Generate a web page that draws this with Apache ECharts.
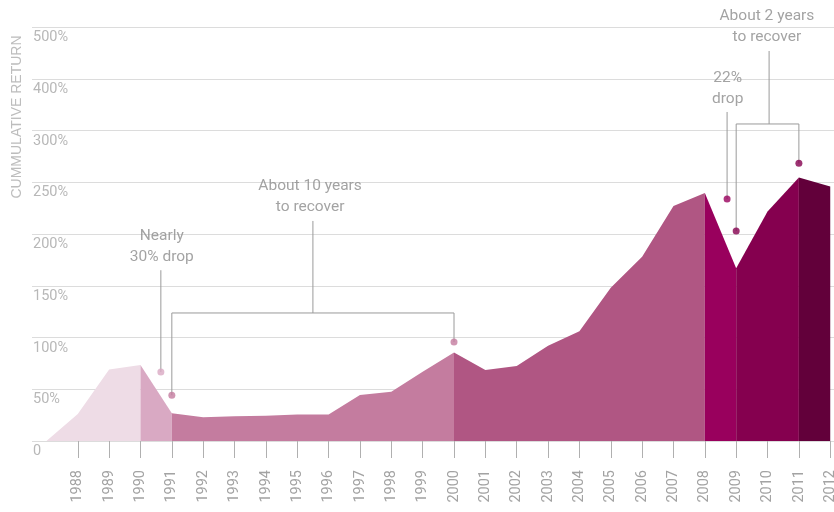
<!DOCTYPE html>
<html>
<head>
<meta charset="utf-8">
<script src="https://cdn.jsdelivr.net/npm/echarts@6/dist/echarts.min.js"></script>
<style>html,body{margin:0;padding:0;background:#fff}#c{width:834px;height:512px}</style>
</head>
<body>
<div id="c"></div>
<script>
// Data
const years = [1987,1988,1989,1990,1991,1992,1993,1994,1995,1996,1997,1998,1999,2000,2001,2002,2003,2004,2005,2006,2007,2008,2009,2010,2011,2012];
const returns = [0,26,69,73.5,26.7,23,24,24.5,25.5,25.5,44.5,47.6,67,85.4,68.7,72.5,92,106,148,178,227,239.5,167,221.7,254.6,246];
const segmentBreaks = [1987,1990,1991,2000,2008,2009,2011,2012];
const segmentColors = ['#eedce6','#d9a9c3','#c47c9f','#b05683','#99005d','#85004f','#62003a'];
const yTickLabels = ['0','50%','100%','150%','200%','250%','300%','400%','500%'];
const xTickYears = years.slice(1);

const annotationTexts = [
  {text:'Nearly\n30% drop', x:1990.68, y:188},
  {text:'About 10 years\nto recover', x:1995.41, y:236},
  {text:'22%\ndrop', x:2008.73, y:340},
  {text:'About 2 years\nto recover', x:2009.98, y:400.5}
];
const annotationDots = [
  {x:1990.65, y:66.7, color:'#d9a9c3'},
  {x:1991, y:44.2, color:'#c47c9f'},
  {x:2000, y:95.7, color:'#c47c9f'},
  {x:2008.71, y:233.8, color:'#99005d'},
  {x:2009, y:202.9, color:'#85004f'},
  {x:2011, y:268.3, color:'#85004f'}
];
const connectorPaths = [
  [[1990.65,165],[1990.65,66.7]],
  [[1991,44.2],[1991,123.7],[2000,123.7],[2000,95.7]],
  [[1995.5,123.7],[1995.5,212.6]],
  [[2008.71,317.9],[2008.71,233.8]],
  [[2009,202.9],[2009,306.3],[2011,306.3],[2011,268.3]],
  [[2010.05,306.3],[2010.05,376.8]]
];

const FONT = 'Roboto, "Liberation Sans", sans-serif';
const series = [];
for (let s = 0; s < segmentColors.length; s++) {
  const a = segmentBreaks[s], b = segmentBreaks[s+1];
  const data = [];
  years.forEach((y, i) => { if (y >= a && y <= b) data.push([y, returns[i]]); });
  series.push({
    type:'line', data, showSymbol:false, symbol:'none', silent:true,
    lineStyle:{width:0}, areaStyle:{color:segmentColors[s], opacity:1}, z:2
  });
}
const connData = [];
connectorPaths.forEach((p, i) => { if (i > 0) connData.push(['-','-']); p.forEach(pt => connData.push(pt)); });
series.push({
  type:'line', data:connData, showSymbol:false, symbol:'none', connectNulls:false, silent:true,
  lineStyle:{width:1, color:'#9a9a9a'}, z:3, clip:false
});
series.push({
  type:'scatter', symbolSize:7, z:4, silent:true, clip:false,
  data: annotationDots.map(d => ({value:[d.x,d.y], itemStyle:{color:d.color}}))
});
series.push({
  type:'scatter', symbolSize:0, z:5, silent:true, clip:false,
  data: annotationTexts.map(d => ({value:[d.x,d.y], name:d.text})),
  label:{show:true, position:'inside', formatter: p => p.name, color:'#8c8c8c', fontSize:15.5, lineHeight:21, fontFamily:FONT, align:'center', verticalAlign:'middle'}
});

const chart = echarts.init(document.getElementById('c'));
chart.setOption({
  animation:false,
  grid:{left:32, right:0, top:27, bottom:71, outerBoundsMode:'none', containLabel:false},
  xAxis:{
    type:'value', min:1986.54, max:2012.12, offset:7,
    axisLine:{show:false},
    splitLine:{show:false},
    axisTick:{show:true, length:17, customValues:xTickYears, lineStyle:{color:'#b0b0b0', width:1}},
    axisLabel:{show:true, customValues:xTickYears, rotate:90, margin:22, color:'#a3a3a3', fontSize:14.5, fontFamily:FONT, hideOverlap:false, formatter: v => String(v)}
  },
  yAxis:{
    type:'value', min:0, max:400, interval:50,
    axisLine:{show:false}, axisTick:{show:false},
    splitLine:{show:true, lineStyle:{color:'#dcdcdc', width:1}},
    axisLabel:{inside:true, margin:1, verticalAlign:'top', padding:[3,0,0,0], color:'#b8b8b8', fontSize:14.5, fontFamily:FONT,
      formatter: v => yTickLabels[Math.round(v/50)]}
  },
  graphic:[{
    type:'text', x:17, y:117, rotation:Math.PI/2, originX:0, originY:0,
    style:{text:'CUMMULATIVE RETURN', fill:'#bdbdbd', fontSize:14, fontFamily:'"Liberation Sans", sans-serif', align:'center', verticalAlign:'middle'}
  }],
  series
});
</script>
</body>
</html>
